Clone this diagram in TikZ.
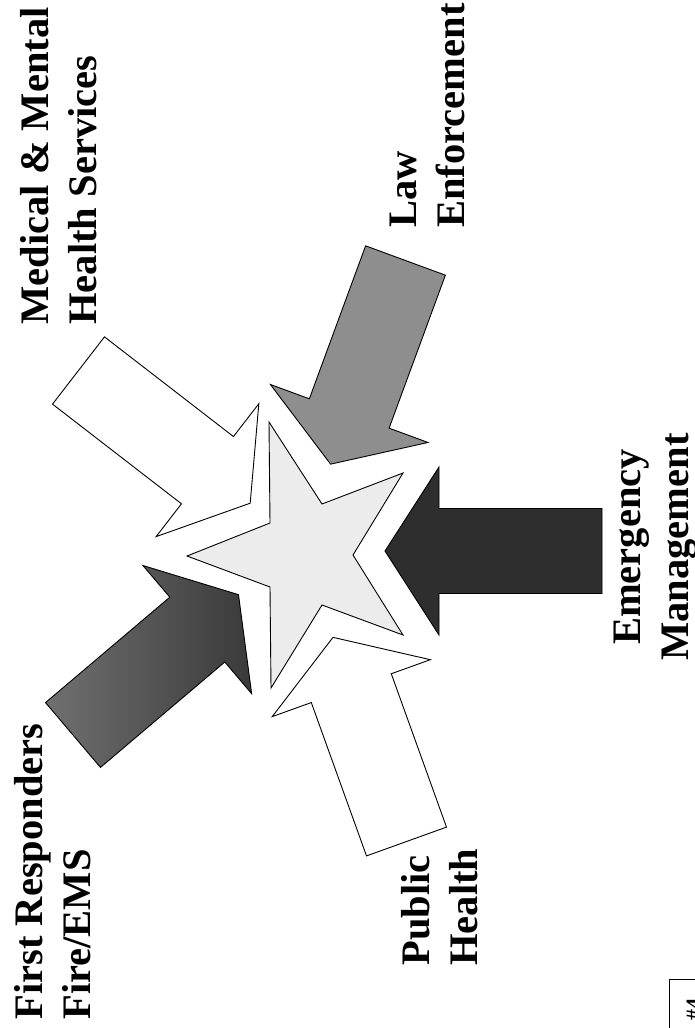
\documentclass[tikz,border=0pt]{standalone}
\usepackage{fontspec}
\setmainfont{Liberation Serif}
\definecolor{starfill}{RGB}{236,236,236}
\definecolor{lawgray}{RGB}{142,142,142}
\definecolor{emdark}{RGB}{46,46,46}
\definecolor{firstlight}{RGB}{112,112,112}
\definecolor{firstdark}{RGB}{58,58,58}
\newcommand{\lblfont}{\bfseries\fontsize{40.5bp}{48bp}\selectfont}

\begin{document}
\begin{tikzpicture}[x=1bp, y=-1bp, line width=0.9bp,
    blockarrow/.pic={\path[pic actions] (0,-42.5) -- (163,-42.5) -- (163,-84) -- (217,0)
      -- (163,84) -- (163,42.5) -- (0,42.5) -- cycle;},
    lbl/.style={font=\lblfont, rotate=90, inner sep=0pt, anchor=west, align=left}]
  \useasboundingbox (0,0) rectangle (695,1028);
  \clip (0,0) rectangle (695,1028);

  \pic[draw=black, fill=white, rotate=-37.7] at (78.5,370.5) {blockarrow};
  \pic[draw=black, fill=lawgray, rotate=-110.2] at (405.5,260.5) {blockarrow};
  \pic[draw=black, fill=emdark, rotate=180] at (602,551) {blockarrow};
  \pic[draw=black, fill=white, rotate=109.8] at (406.5,841.5) {blockarrow};
  \pic[draw=black, left color=firstlight, right color=firstdark, rotate=40.3] at (73,735) {blockarrow};

  \filldraw[fill=starfill] (269,422) -- (322,504) -- (403,473) -- (353,555) -- (403,635)
    -- (322,605) -- (271,688) -- (270,587) -- (187,556) -- (270,523) -- cycle;

  \node[lbl] (medical) at (58.5,325) {Medical \& Mental\\Health Services};
  \node[lbl] (law) at (427,228) {Law\\Enforcement};
  \node[lbl, anchor=center, align=center] (emergency) at (655.5,547) {Emergency\\Management};
  \node[lbl] (public) at (440,966) {Public\\Health};
  \node[lbl] (first) at (52.6,1020) {First Responders\\Fire/EMS};

  \draw (669,1040) |- (720,979);
  \node[font=\bfseries\fontsize{22bp}{26bp}\selectfont, rotate=90, anchor=base west, inner sep=0pt]
    (slide) at (701,1021) {\#4};
\end{tikzpicture}
\end{document}
